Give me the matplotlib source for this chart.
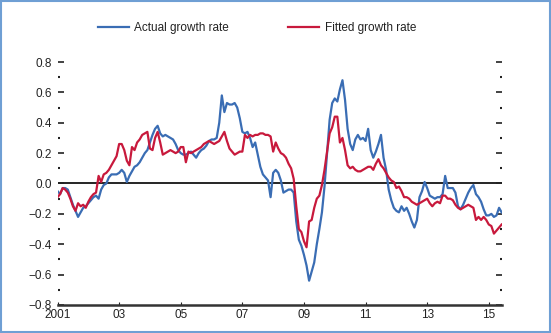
import matplotlib
matplotlib.use("Agg")
from matplotlib import pyplot as plt
from matplotlib.patches import Rectangle
from matplotlib.ticker import MultipleLocator
import numpy as np

# monthly data, Jan 2001 onwards
actual = [
    -0.05, -0.07, -0.03, -0.03, -0.04, -0.09, -0.14, -0.18, -0.22, -0.19, -0.16, -0.15,
    -0.13, -0.11, -0.09, -0.08, -0.10, -0.04, -0.01, 0.00, 0.04, 0.06, 0.06, 0.06,
    0.07, 0.09, 0.07, 0.01, 0.05, 0.08, 0.11, 0.12, 0.14, 0.17, 0.20, 0.22,
    0.27, 0.32, 0.36, 0.38, 0.33, 0.31, 0.32, 0.31, 0.30, 0.29, 0.26, 0.22,
    0.20, 0.19, 0.19, 0.20, 0.21, 0.19, 0.17, 0.20, 0.22, 0.23, 0.25, 0.28,
    0.29, 0.29, 0.30, 0.40, 0.58, 0.47, 0.53, 0.52, 0.52, 0.53, 0.50, 0.43,
    0.34, 0.33, 0.34, 0.30, 0.24, 0.27, 0.19, 0.11, 0.06, 0.04, 0.02, -0.09,
    0.07, 0.09, 0.07, 0.02, -0.06, -0.05, -0.04, -0.04, -0.06, -0.25, -0.37, -0.41,
    -0.47, -0.54, -0.64, -0.58, -0.52, -0.40, -0.30, -0.19, -0.02, 0.20, 0.42, 0.53,
    0.56, 0.54, 0.62, 0.68, 0.55, 0.36, 0.26, 0.22, 0.29, 0.32, 0.29, 0.30,
    0.28, 0.36, 0.22, 0.17, 0.21, 0.26, 0.32, 0.17, 0.09, -0.04, -0.11, -0.16,
    -0.18, -0.19, -0.15, -0.18, -0.16, -0.20, -0.25, -0.29, -0.24, -0.09, -0.05, 0.01,
    -0.03, -0.08, -0.09, -0.10, -0.09, -0.09, -0.07, 0.05, -0.03, -0.03, -0.03, -0.06,
    -0.15, -0.17, -0.14, -0.10, -0.06, -0.03, -0.01, -0.07, -0.09, -0.12, -0.17, -0.21,
    -0.21, -0.20, -0.22, -0.21, -0.16, -0.19,
]
fitted = [
    -0.09, -0.07, -0.03, -0.04, -0.06, -0.10, -0.15, -0.18, -0.13, -0.15, -0.14, -0.16,
    -0.12, -0.09, -0.07, -0.06, 0.05, 0.01, 0.06, 0.07, 0.09, 0.12, 0.15, 0.18,
    0.26, 0.26, 0.22, 0.15, 0.12, 0.24, 0.22, 0.27, 0.29, 0.32, 0.33, 0.34,
    0.23, 0.22, 0.30, 0.34, 0.27, 0.19, 0.20, 0.21, 0.22, 0.21, 0.20, 0.21,
    0.24, 0.24, 0.14, 0.21, 0.20, 0.21, 0.22, 0.23, 0.24, 0.26, 0.27, 0.28,
    0.27, 0.26, 0.27, 0.28, 0.31, 0.34, 0.28, 0.23, 0.21, 0.19, 0.20, 0.21,
    0.21, 0.32, 0.30, 0.32, 0.31, 0.32, 0.32, 0.33, 0.33, 0.32, 0.32, 0.31,
    0.21, 0.27, 0.23, 0.20, 0.19, 0.17, 0.13, 0.10, 0.03, -0.15, -0.30, -0.32,
    -0.38, -0.42, -0.25, -0.24, -0.16, -0.10, -0.08, -0.01, 0.09, 0.21, 0.33, 0.37,
    0.44, 0.44, 0.27, 0.30, 0.22, 0.12, 0.10, 0.11, 0.09, 0.08, 0.08, 0.09,
    0.10, 0.11, 0.11, 0.09, 0.13, 0.16, 0.12, 0.10, 0.07, 0.04, 0.02, 0.01,
    -0.03, -0.02, -0.05, -0.09, -0.09, -0.10, -0.12, -0.13, -0.14, -0.13, -0.12, -0.11,
    -0.10, -0.13, -0.15, -0.13, -0.12, -0.13, -0.08, -0.08, -0.10, -0.10, -0.11, -0.14,
    -0.16, -0.17, -0.16, -0.15, -0.14, -0.15, -0.16, -0.24, -0.22, -0.24, -0.22, -0.24,
    -0.27, -0.28, -0.33, -0.31, -0.29, -0.27,
]
year_ticks = [2001, 2003, 2005, 2007, 2009, 2011, 2013, 2015]
year_labels = ["2001", "03", "05", "07", "09", "11", "13", "15"]

t = 2001 + np.arange(len(actual)) / 12.0

blue = "#3a6db4"
red = "#c8193c"
text_color = "#222222"

plt.rcParams["font.family"] = ["Liberation Sans", "DejaVu Sans"]
fig = plt.figure(figsize=(5.51, 3.33), dpi=100)
ax = fig.add_axes([0.1044, 0.0841, 0.806, 0.7297])

ax.plot(t, actual, color=blue, linewidth=1.6, label="Actual growth rate")
ax.plot(t, fitted, color=red, linewidth=1.6, label="Fitted growth rate")
ax.axhline(0, color="black", linewidth=1.2, zorder=1)

ax.set_xlim(t[0], t[-1])
ax.set_ylim(-0.8, 0.8)

for side in ["top", "left", "right"]:
    ax.spines[side].set_visible(False)
ax.spines["bottom"].set_linewidth(1.8)
ax.spines["bottom"].set_color("#333333")

ax.yaxis.set_major_locator(MultipleLocator(0.2))
ax.yaxis.set_minor_locator(MultipleLocator(0.1))
ax.set_yticklabels([f"{v:.1f}".replace("-", "\u2212") for v in ax.get_yticks()])
ax.tick_params(axis="y", which="major", direction="in", length=4, width=1.2,
               left=True, right=True, labelsize=8.5, colors=text_color, pad=4)
ax.tick_params(axis="y", which="minor", direction="in", length=1.5, width=1.5,
               left=True, right=True, colors=text_color)

ax.set_xticks(year_ticks)
ax.set_xticklabels(year_labels)
ax.tick_params(axis="x", direction="in", length=2, width=0.8, labelsize=8.5,
               colors=text_color, pad=3)

fig.legend(loc="center", bbox_to_anchor=(257 / 551, 0.916), ncol=2, frameon=False,
           fontsize=8.5, handlelength=2.6, handletextpad=0.5, columnspacing=5.0,
           labelcolor=text_color)

fig.patches.append(Rectangle((0.002, 0.003), 0.996, 0.994, transform=fig.transFigure,
                             fill=False, edgecolor="#6f9fd4", linewidth=1.5))

plt.savefig("out.png", dpi=100)
plt.close(fig)
